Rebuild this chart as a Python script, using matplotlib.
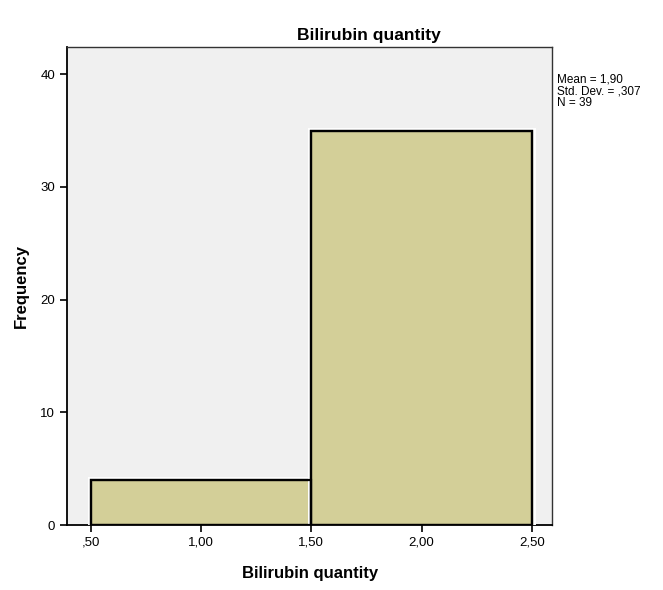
import matplotlib
matplotlib.use("Agg")
import matplotlib.pyplot as plt
import matplotlib.patheffects as pe

bin_edges = [0.5, 1.5, 2.5]
frequencies = [4, 35]
x_ticks = [0.5, 1.0, 1.5, 2.0, 2.5]
x_tick_labels = [",50", "1,00", "1,50", "2,00", "2,50"]
y_ticks = [0, 10, 20, 30, 40]
stats_text = "Mean = 1,90\nStd. Dev. = ,307\nN = 39"

plt.rcParams['font.family'] = ['Liberation Sans', 'DejaVu Sans']

fig = plt.figure(figsize=(6.63, 5.90), dpi=100)
ax = fig.add_axes([0.101, 0.110, 0.732, 0.810])
ax.set_facecolor('#F0F0F0')

lefts = bin_edges[:-1]
widths = [bin_edges[i + 1] - bin_edges[i] for i in range(len(frequencies))]
bars = ax.bar(lefts, frequencies, width=widths, align='edge', color='#D3CF98',
              edgecolor='black', linewidth=1.6, zorder=3)
for b in bars:
    b.set_path_effects([pe.Stroke(linewidth=5, foreground='white'), pe.Normal()])
ax.bar(lefts, frequencies, width=widths, align='edge', fill=False,
       edgecolor='#F2EEBE', linewidth=0.8, zorder=4)
ax.bar(lefts, frequencies, width=widths, align='edge', fill=False,
       edgecolor='black', linewidth=1.6, zorder=5)

ax.set_xlim(0.391, 2.593)
ax.set_ylim(0, 42.4)
ax.set_xticks(x_ticks)
ax.set_xticklabels(x_tick_labels)
ax.set_yticks(y_ticks)
ax.tick_params(axis='both', direction='out', length=5, width=1.2, labelsize=9.5, colors='black')

for s in ['left', 'bottom']:
    ax.spines[s].set_linewidth(1.3)
    ax.spines[s].set_color('black')
for s in ['top', 'right']:
    ax.spines[s].set_linewidth(1.0)
    ax.spines[s].set_color('#333333')

ax.set_title("Bilirubin quantity", fontsize=12.5, fontweight='bold', pad=5, x=0.623)
ax.set_xlabel("Bilirubin quantity", fontsize=12, fontweight='bold', labelpad=12)
ax.set_ylabel("Frequency", fontsize=12, fontweight='bold', labelpad=8)

fig.text(0.840, 0.875, stats_text, fontsize=8.5, va='top', ha='left', linespacing=0.98)

fig.savefig("out.png", dpi=100, facecolor='white')
